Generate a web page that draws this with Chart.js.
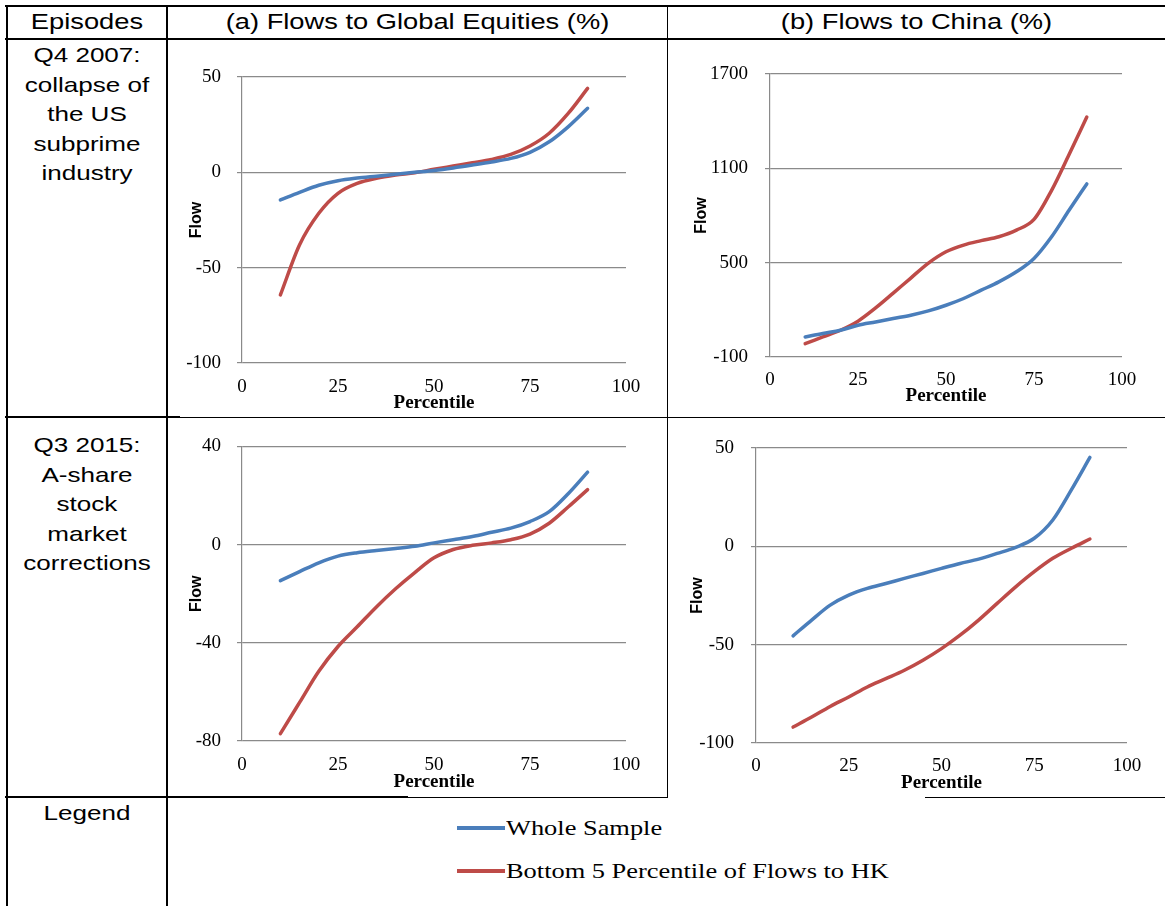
<!DOCTYPE html>
<html>
<head>
<meta charset="utf-8">
<script src="https://cdn.jsdelivr.net/npm/chart.js@4.4.1/dist/chart.umd.min.js"></script>
<style>
body { margin: 0; background: #fff; }
#page { position: relative; width: 1165px; height: 906px; overflow: hidden; background: #fff; font-family: "Liberation Sans", Arial, sans-serif; }
.ln { position: absolute; background: #000; }
.cell { position: absolute; text-align: center; font-size: 21px; line-height: 29.5px; color: #000; }
.cell div { transform: scaleX(1.24); white-space: nowrap; }
.head { font-size: 22px; }
canvas { position: absolute; }
.leg { position: absolute; font-family: "Liberation Serif", serif; font-size: 22px; line-height: 26px; white-space: nowrap; transform-origin: left center; transform: scaleX(1.2); }
.sw { position: absolute; height: 4px; width: 48px; }
</style>
</head>
<body>
<div id="page">
  <!-- table lines -->
  <div class="ln" style="left:5px;top:5px;width:1160px;height:2px"></div>
  <div class="ln" style="left:5px;top:38px;width:1160px;height:2px"></div>
  <div class="ln" style="left:5px;top:416px;width:175px;height:2px"></div>
  <div class="ln" style="left:180px;top:417px;width:985px;height:1px"></div>
  <div class="ln" style="left:5px;top:796px;width:403px;height:2px"></div>
  <div class="ln" style="left:408px;top:797px;width:260px;height:1px"></div>
  <div class="ln" style="left:925px;top:797px;width:240px;height:1px"></div>
  <div class="ln" style="left:6px;top:5px;width:2px;height:901px"></div>
  <div class="ln" style="left:166px;top:5px;width:2px;height:901px"></div>
  <div class="ln" style="left:667px;top:5px;width:1px;height:793px"></div>

  <!-- header row -->
  <div class="cell head" style="left:8px;top:7px;width:158px"><div>Episodes</div></div>
  <div class="cell head" style="left:168px;top:7px;width:499px"><div>(a) Flows to Global Equities (%)</div></div>
  <div class="cell head" style="left:668px;top:7px;width:497px"><div>(b) Flows to China (%)</div></div>

  <!-- episode labels -->
  <div class="cell" style="left:8px;top:40px;width:158px">
    <div>Q4 2007:</div><div>collapse of</div><div>the US</div><div>subprime</div><div>industry</div>
  </div>
  <div class="cell" style="left:8px;top:430px;width:158px">
    <div>Q3 2015:</div><div>A-share</div><div>stock</div><div>market</div><div>corrections</div>
  </div>
  <div class="cell" style="left:8px;top:798px;width:158px"><div>Legend</div></div>

  <canvas id="c1"></canvas>
  <canvas id="c2"></canvas>
  <canvas id="c3"></canvas>
  <canvas id="c4"></canvas>

  <!-- legend row -->
  <div class="sw" style="left:457px;top:826px;background:#4a7ebb"></div>
  <div class="leg" style="left:506px;top:815px">Whole Sample</div>
  <div class="sw" style="left:457px;top:869px;background:#be4b48"></div>
  <div class="leg" style="left:506px;top:858px">Bottom 5 Percentile of Flows to HK</div>
</div>

<script>
// Percentis no eixo X
const percentiles = [10, 15, 20, 25, 30, 35, 40, 45, 50, 55, 60, 65, 70, 75, 80, 85, 90];
const xTicks = [0, 25, 50, 75, 100];

// Q4 2007 - fluxos para ações globais (%)
const eqWhole2007  = [-14.5, -10.5, -6.8, -4.4, -3.0, -2.0, -1.0, 0.0, 1.0, 2.3, 3.8, 5.4, 7.3, 10.5, 16.0, 24.0, 33.6];
const eqBottom2007 = [-64.3, -38.0, -21.5, -11.0, -5.8, -3.1, -1.4, -0.2, 1.6, 3.3, 5.0, 6.8, 9.4, 13.8, 20.5, 31.0, 44.0];
const eqTicks2007  = [-100, -50, 0, 50];

// Q4 2007 - fluxos para a China (%)
const cnWhole2007  = [27.5, 50, 70, 102, 123, 145, 166, 193, 229, 272, 325, 378, 442, 527, 665, 835, 1001];
const cnBottom2007 = [-15, 27.5, 70, 128, 212, 306, 402, 497, 569, 612, 640, 665, 707, 775, 960, 1190, 1426];
const cnTicks2007  = [-100, 500, 1100, 1700];

// Q3 2015 - fluxos para ações globais (%)
const eqWhole2015  = [-14.7, -11.0, -7.4, -4.7, -3.3, -2.4, -1.6, -0.7, 0.7, 2.0, 3.3, 5.0, 6.7, 9.4, 13.4, 20.8, 29.5];
const eqBottom2015 = [-77.0, -64.3, -51.6, -41.5, -33.5, -25.4, -18.0, -11.4, -5.4, -2.0, -0.3, 0.7, 2.0, 4.3, 8.7, 15.4, 22.4];
const eqTicks2015  = [-80, -40, 0, 40];

// Q3 2015 - fluxos para a China (%)
const cnWhole2015  = [-45.5, -37.5, -29.9, -24.8, -21.4, -18.9, -16.3, -13.8, -11.2, -8.7, -6.5, -3.6, -0.5, 4.1, 13.4, 28.7, 45.2];
const cnBottom2015 = [-91.9, -86.8, -81.4, -76.6, -71.5, -67.3, -63.0, -57.9, -52.0, -45.2, -37.5, -29.0, -20.6, -12.9, -6.1, -1.0, 3.7];
const cnTicks2015  = [-100, -50, 0, 50];

const seriesNames = ['Whole Sample', 'Bottom 5 Percentile of Flows to HK'];
const BLUE = '#4a7ebb';
const RED = '#be4b48';
const GRID = '#8a8a8a';
const TICK_SIZE = 19;

// monta um painel; pos = caixa do canvas e da área do gráfico (px da página)
function drawPanel(id, pos, whole, bottom, yTicks) {
    const cv = document.getElementById(id);
    cv.width = pos.w;
    cv.height = pos.h;
    cv.style.left = pos.left + 'px';
    cv.style.top = pos.top + 'px';

    const tickFont = { family: 'Liberation Serif', size: TICK_SIZE };
    const titleFont = { family: 'Liberation Serif', size: 19, weight: 'bold' };
    const flowFont = { family: 'Liberation Sans', size: 16, weight: 'bold' };

    const toPoints = arr => percentiles.map((p, i) => ({ x: p, y: arr[i] }));

    return new Chart(cv, {
        type: 'line',
        data: {
            datasets: [
                { label: seriesNames[0], data: toPoints(whole), borderColor: BLUE, backgroundColor: BLUE },
                { label: seriesNames[1], data: toPoints(bottom), borderColor: RED, backgroundColor: RED }
            ]
        },
        options: {
            responsive: false,
            animation: false,
            layout: {
                padding: { left: 0, top: pos.pt - pos.top, right: pos.left + pos.w - pos.pr, bottom: 0 }
            },
            plugins: { legend: { display: false }, tooltip: { enabled: false } },
            elements: {
                point: { radius: 0 },
                line: { borderWidth: 3.5, cubicInterpolationMode: 'monotone', borderCapStyle: 'round' }
            },
            scales: {
                x: {
                    type: 'linear', min: 0, max: 100,
                    afterBuildTicks: s => { s.ticks = xTicks.map(v => ({ value: v })); },
                    afterFit: s => { s.height = pos.top + pos.h - pos.pb; },
                    grid: { display: false, drawTicks: false },
                    border: { display: false },
                    ticks: {
                        font: tickFont, color: '#000', maxRotation: 0, autoSkip: false,
                        padding: pos.tickY - pos.pb - TICK_SIZE * 1.2 / 2,
                        callback: v => String(v)
                    },
                    title: {
                        display: true, text: 'Percentile', font: titleFont, color: '#000',
                        padding: { top: 0, bottom: pos.top + pos.h - pos.titleY - 19 * 1.2 / 2 }
                    }
                },
                y: {
                    type: 'linear', min: yTicks[0], max: yTicks[yTicks.length - 1],
                    afterBuildTicks: s => { s.ticks = yTicks.map(v => ({ value: v })); },
                    afterFit: s => { s.width = pos.pl - pos.left; },
                    grid: { color: GRID, lineWidth: 1.2, drawTicks: true, tickLength: 5 },
                    border: { display: true, color: GRID, width: 1.2 },
                    ticks: {
                        font: tickFont, color: '#000',
                        padding: pos.pl - 5 - pos.labelR,
                        callback: v => String(v)
                    },
                    title: {
                        display: true, text: 'Flow', font: flowFont, color: '#000',
                        padding: { top: pos.flowX - pos.left - 16 * 1.2 / 2, bottom: 0 }
                    }
                }
            }
        }
    });
}

drawPanel('c1', { left: 168, top: 40, w: 498, h: 376, pl: 242, pr: 626, pt: 77, pb: 363, tickY: 387, titleY: 403, labelR: 221, flowX: 197 },
    eqWhole2007, eqBottom2007, eqTicks2007);
drawPanel('c2', { left: 668, top: 40, w: 495, h: 376, pl: 770, pr: 1122, pt: 74, pb: 357, tickY: 380, titleY: 396, labelR: 748, flowX: 702 },
    cnWhole2007, cnBottom2007, cnTicks2007);
drawPanel('c3', { left: 168, top: 419, w: 498, h: 376, pl: 242, pr: 626, pt: 442, pb: 741, tickY: 765, titleY: 782, labelR: 221, flowX: 197 },
    eqWhole2015, eqBottom2015, eqTicks2015);
drawPanel('c4', { left: 668, top: 419, w: 495, h: 376, pl: 756, pr: 1127, pt: 448, pb: 743, tickY: 766, titleY: 783, labelR: 734, flowX: 698 },
    cnWhole2015, cnBottom2015, cnTicks2015);
</script>
</body>
</html>
